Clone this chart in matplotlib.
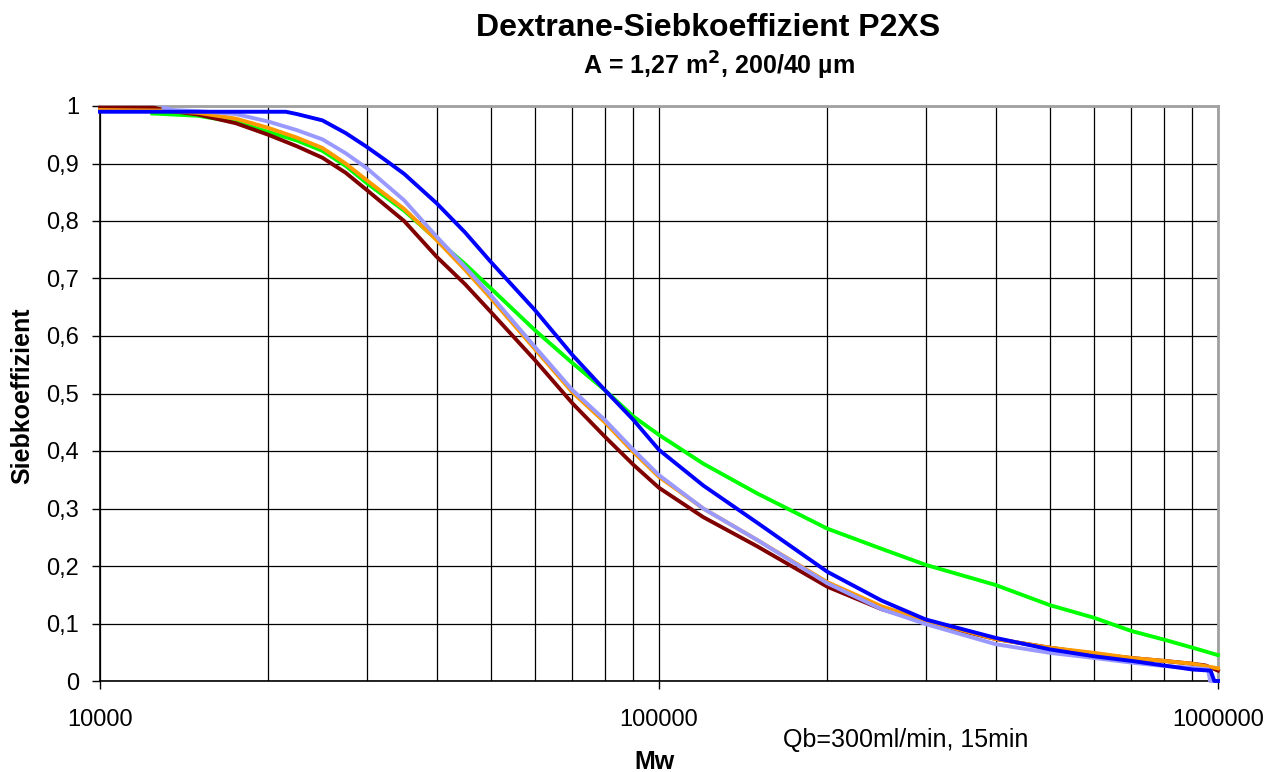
import numpy as np
import matplotlib.pyplot as plt
from matplotlib.ticker import FixedLocator, NullFormatter

plt.rcParams['font.family'] = ['Liberation Sans', 'DejaVu Sans']

# Mw values (x) and Siebkoeffizient (y) for each series
mw_maroon = [10000, 12500, 13000, 15000, 17500, 20000, 22500, 25000, 27500, 30000, 35000, 40000,
             45000, 50000, 60000, 70000, 80000, 90000, 100000, 120000, 150000, 200000,
             250000, 300000, 400000, 500000, 600000, 700000, 800000, 900000, 950000, 1000000]
sk_maroon = [0.997, 0.997, 0.993, 0.985, 0.97, 0.95, 0.93, 0.91, 0.884, 0.854, 0.80, 0.738,
             0.69, 0.642, 0.558, 0.483, 0.425, 0.376, 0.336, 0.285, 0.234, 0.164,
             0.125, 0.102, 0.073, 0.058, 0.047, 0.040, 0.035, 0.030, 0.027, 0.018]

mw_orange = [10000, 13000, 15000, 17500, 20000, 22500, 25000, 27500, 30000, 35000, 40000,
             45000, 50000, 60000, 70000, 80000, 90000, 100000, 120000, 150000, 200000,
             250000, 300000, 400000, 500000, 600000, 700000, 800000, 900000, 950000, 1000000]
sk_orange = [0.993, 0.992, 0.988, 0.978, 0.962, 0.945, 0.927, 0.900, 0.871, 0.821, 0.767,
             0.715, 0.666, 0.577, 0.502, 0.450, 0.398, 0.355, 0.300, 0.245, 0.172,
             0.130, 0.105, 0.073, 0.058, 0.049, 0.040, 0.035, 0.030, 0.026, 0.022]

mw_lav = [13000, 13500, 15000, 17500, 20000, 22500, 25000, 27500, 30000, 35000, 40000,
          45000, 50000, 60000, 70000, 80000, 90000, 100000, 120000, 150000, 200000,
          250000, 300000, 400000, 500000, 600000, 700000, 800000, 900000, 960000, 968000, 1000000]
sk_lav = [0.997, 0.993, 0.991, 0.986, 0.973, 0.958, 0.942, 0.918, 0.892, 0.836, 0.773,
          0.720, 0.671, 0.581, 0.506, 0.454, 0.402, 0.358, 0.300, 0.245, 0.170,
          0.125, 0.099, 0.064, 0.049, 0.040, 0.032, 0.026, 0.023, 0.020, 0.0, 0.0]

mw_blue = [10000, 15000, 20000, 21500, 22500, 25000, 27500, 30000, 32500, 35000, 40000, 45000,
           50000, 60000, 70000, 80000, 90000, 100000, 120000, 150000, 200000, 250000, 300000,
           400000, 500000, 600000, 700000, 800000, 900000, 970000, 985000, 1000000]
sk_blue = [0.99, 0.99, 0.99, 0.99, 0.986, 0.975, 0.953, 0.929, 0.905, 0.882, 0.831, 0.780,
           0.729, 0.645, 0.567, 0.506, 0.454, 0.402, 0.340, 0.275, 0.190, 0.140, 0.107,
           0.075, 0.055, 0.043, 0.035, 0.027, 0.020, 0.018, 0.0, 0.0]

mw_green = [12400, 15000, 17500, 20000, 22500, 25000, 27500, 30000, 35000, 40000, 45000, 50000,
            60000, 70000, 80000, 90000, 100000, 120000, 150000, 200000, 250000, 300000,
            400000, 500000, 600000, 700000, 800000, 900000, 1000000]
sk_green = [0.987, 0.983, 0.972, 0.955, 0.94, 0.922, 0.896, 0.866, 0.818, 0.768, 0.725, 0.683,
            0.610, 0.553, 0.506, 0.460, 0.428, 0.378, 0.326, 0.265, 0.230, 0.202,
            0.167, 0.132, 0.110, 0.087, 0.072, 0.058, 0.045]

y_ticks = np.arange(0, 1.01, 0.1)
y_labels = ['0', '0,1', '0,2', '0,3', '0,4', '0,5', '0,6', '0,7', '0,8', '0,9', '1']
x_major = [10000, 100000, 1000000]
x_labels = ['10000', '100000', '1000000']

W, H = 1285, 772
fig = plt.figure(figsize=(W / 100, H / 100), dpi=100)
ax = fig.add_axes([100 / W, 1 - 681 / H, 1118 / W, 575 / H])

lw = 2.8
series = [(mw_green, sk_green, '#00FF00'),
          (mw_maroon, sk_maroon, '#800000'),
          (mw_orange, sk_orange, '#FF9900'),
          (mw_lav, sk_lav, '#9999FF'),
          (mw_blue, sk_blue, '#0000FF')]
for i, (x, y, c) in enumerate(series):
    ax.plot(x, y, color=c, lw=lw, zorder=3 + i, clip_on=False)

ax.set_xscale('log')
ax.set_xlim(10000, 1000000)
ax.set_ylim(0, 1)

ax.xaxis.set_major_locator(FixedLocator(x_major))
ax.set_xticklabels(x_labels)
minors = [m * d for d in (10000, 100000) for m in range(2, 10)]
ax.xaxis.set_minor_locator(FixedLocator(minors))
ax.xaxis.set_minor_formatter(NullFormatter())
ax.set_yticks(y_ticks)
ax.set_yticklabels(y_labels)

ax.grid(True, which='both', axis='x', color='black', lw=0.9, zorder=1)
ax.grid(True, which='major', axis='y', color='black', lw=0.9, zorder=1)
ax.set_axisbelow(True)

ax.tick_params(axis='both', which='major', direction='out', length=6, width=1,
               labelsize=17, color='black')
ax.tick_params(axis='y', pad=9)
ax.tick_params(axis='x', pad=14)
ax.tick_params(axis='x', which='minor', length=0)

for side in ('left', 'bottom'):
    ax.spines[side].set_color('black')
    ax.spines[side].set_linewidth(1.2)
for side in ('top', 'right'):
    ax.spines[side].set_color('#A0A0A0')
    ax.spines[side].set_linewidth(2)

fig.text(708 / W, 1 - 36 / H, 'Dextrane-Siebkoeffizient P2XS', ha='center', va='baseline',
         fontsize=23, fontweight='bold')
fig.text(719 / W, 1 - 75 / H, 'A = 1,27 m$^\\mathbf{2}$, 200/40 µm', ha='center', va='baseline',
         fontsize=18, fontweight='bold')
fig.text(22 / W, 1 - 396 / H, 'Siebkoeffizient', rotation=90, ha='center', va='center',
         fontsize=18, fontweight='bold')
fig.text(655 / W, 1 - 769 / H, 'Mw', ha='center', va='baseline', fontsize=18, fontweight='bold')
fig.text(783 / W, 1 - 747 / H, 'Qb=300ml/min, 15min', ha='left', va='baseline', fontsize=18)

fig.savefig('out.png', dpi=100)
